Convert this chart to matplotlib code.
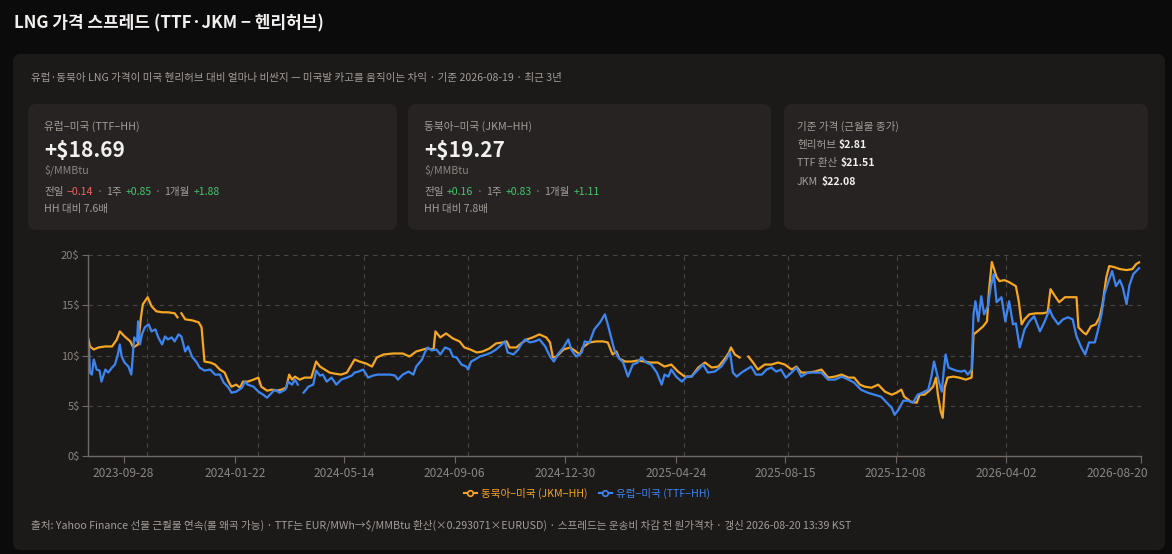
import numpy as np
import pandas as pd
import matplotlib
matplotlib.use('Agg')
import matplotlib.pyplot as plt
import matplotlib.transforms as mtransforms
from matplotlib.patches import FancyBboxPatch
from matplotlib.lines import Line2D

plt.rcParams['font.family'] = ['Noto Sans CJK KR', 'DejaVu Sans']

# window start; day offsets below count from here
start = pd.Timestamp('2023-08-22')

# 동북아-미국 (JKM-HH) spread, $/MMBtu
jkm_days = [0, 2, 6, 11, 18, 25, 30, 33, 38, 44, 47, 52, 55, 57, 62, 66, 71, 77, 83, 90,
            93, 95, 97, 101, 108, 115, 118, 121, 127, 132, 137, 142, 146, 149, 154, 158, 161, 166, 172, 177,
            180, 186, 191, 196, 201, 206, 209, 212, 215, 220, 225, 232, 237, 241, 246, 251, 256, 263, 269, 274,
            277, 282, 289, 295, 300, 307, 317, 327, 334, 341, 352, 359, 361, 366, 372, 379, 386, 391, 397, 404,
            410, 417, 424, 431, 435, 438, 445, 450, 456, 462, 469, 476, 480, 483, 487, 494, 501, 507, 511, 514,
            521, 528, 535, 540, 545, 549, 552, 558, 565, 571, 578, 585, 592, 599, 606, 613, 620, 627, 634, 641,
            648, 655, 661, 666, 668, 672, 677, 680, 686, 691, 696, 703, 710, 717, 724, 731, 736, 741, 748, 755,
            762, 769, 776, 783, 790, 796, 802, 807, 814, 821, 828, 835, 840, 845, 848, 855, 861, 864, 869, 874,
            878, 881, 883, 886, 888, 890, 893, 899, 905, 912, 918, 920, 924, 930, 934, 936, 939, 944, 947, 952,
            957, 964, 967, 970, 973, 978, 985, 992, 997, 1000, 1004, 1009, 1015, 1020, 1027, 1029, 1034, 1037, 1042, 1047,
            1051, 1054, 1058, 1061, 1066, 1072, 1079, 1085, 1089, 1092]
jkm_vals = [11.8, 10.9, 10.6, 10.8, 10.9, 10.9, 11.6, 12.4, 11.9, 11.4, 10.8, 11.1, 13.8, 15.1, 15.8, 14.9, 14.4, 14.3, 14.3, 14.2,
            13.8, np.nan, 14.2, 13.6, 13.5, 13.3, 12.8, 9.4, 9.3, 9.1, 8.6, 8.3, 7.4, 6.9, 7.1, 6.8, 7.4, 7.4, 7.6, 7.8,
            6.9, 6.5, 6.6, 6.5, 6.6, 6.8, 8.1, 7.6, 7.9, 7.6, 7.8, 7.8, 9.4, 8.9, 8.6, 8.3, 8.2, 8.1, 8.3, 9.1,
            9.6, 9.4, 9.2, 8.9, 9.8, 10.1, 10.2, 10.2, 9.9, 10.4, 10.7, 10.6, 12.4, 11.8, 12.2, 11.7, 11.4, 10.8, 10.6, 10.3,
            10.4, 10.7, 11.2, 11.3, 11.4, 10.8, 10.8, 11.2, 11.6, 11.8, 12.1, 11.8, 11.3, 9.8, 9.9, 10.6, 10.8, 10.4, 10.1, 10.8,
            11.3, 11.4, 11.4, 11.3, 10.1, 10.4, 9.7, 9.4, 9.4, 9.5, 9.4, 9.3, 9.3, 8.9, 9.1, 8.4, 7.9, 7.9, 8.8, 9.3,
            8.8, 8.9, 9.6, 10.3, 10.8, 10.1, 9.8, np.nan, 9.9, 9.3, 8.6, 9.1, 9.1, 9.3, 9.1, 8.6, 8.9, 8.3, 8.3, 8.4,
            8.6, 7.8, 7.9, 8.1, 7.8, 7.8, 7.1, 6.9, 6.8, 7.1, 6.4, 6.1, 6.3, 6.6, 5.9, 5.4, 5.3, 6.1, 6.1, 6.5,
            6.9, 7.8, 6.1, 4.4, 3.8, 6.8, 7.8, 7.9, 7.8, 7.6, 7.8, 12.1, 12.4, 12.9, 13.4, 16.4, 19.3, 17.8, 17.4, 17.5,
            17.3, 16.9, 15.4, 13.1, 13.6, 14.1, 14.2, 14.2, 14.3, 16.6, 16.0, 15.3, 15.8, 15.8, 15.8, 12.8, 12.3, 12.1, 12.9, 13.1,
            13.8, 15.1, 17.8, 18.9, 18.8, 18.6, 18.5, 18.6, 19.1, 19.27]

# 유럽-미국 (TTF-HH) spread, $/MMBtu
ttf_days = [0, 1, 2, 4, 6, 9, 12, 14, 18, 21, 25, 28, 31, 33, 35, 38, 42, 45, 48, 51,
            52, 54, 56, 59, 63, 66, 70, 73, 77, 80, 83, 87, 90, 94, 97, 101, 104, 108, 113, 116,
            121, 127, 132, 137, 141, 146, 149, 154, 160, 163, 166, 172, 177, 182, 186, 189, 194, 199, 205, 208,
            212, 215, 218, 221, 224, 229, 234, 237, 241, 244, 248, 253, 258, 263, 269, 274, 277, 281, 286, 291,
            296, 301, 307, 314, 319, 322, 327, 333, 338, 341, 347, 350, 353, 357, 362, 366, 371, 376, 379, 383,
            388, 393, 395, 398, 402, 407, 414, 419, 424, 430, 433, 436, 442, 447, 450, 454, 459, 464, 469, 475,
            480, 484, 488, 494, 499, 502, 507, 513, 516, 521, 526, 532, 537, 540, 544, 547, 551, 556, 561, 566,
            571, 575, 580, 585, 591, 596, 599, 603, 606, 611, 617, 622, 627, 634, 639, 644, 651, 658, 663, 667,
            670, 674, 679, 684, 689, 694, 700, 705, 710, 715, 720, 725, 731, 736, 741, 748, 755, 762, 769, 776,
            783, 790, 796, 803, 810, 817, 824, 829, 835, 838, 842, 847, 852, 857, 862, 867, 873, 876, 879, 881,
            884, 887, 889, 891, 894, 899, 902, 907, 911, 914, 918, 920, 922, 925, 928, 931, 935, 938, 941, 944,
            949, 953, 957, 961, 964, 968, 973, 978, 983, 989, 994, 999, 1002, 1008, 1013, 1018, 1023, 1027, 1032, 1036,
            1040, 1046, 1049, 1053, 1056, 1060, 1064, 1068, 1072, 1075, 1079, 1082, 1086, 1089, 1092]
ttf_vals = [11.1, 10.8, 8.3, 8.1, 9.6, 8.6, 8.5, 7.4, 8.6, 8.3, 8.8, 9.1, 10.1, 11.1, 9.9, 9.3, 8.9, 8.1, 11.8, 11.4,
            13.4, 11.1, 12.1, 12.8, 13.1, 12.4, 12.6, 11.8, 11.1, 11.9, 11.6, 11.8, 11.4, 12.1, 11.9, 10.4, 10.9, 9.9, 9.3, 8.8,
            8.5, 8.6, 8.1, 8.1, 7.3, 6.8, 6.3, 6.4, 6.8, 7.4, 7.1, 6.9, 6.4, 6.1, 5.8, 6.1, 6.6, 6.3, 6.6, 7.4,
            7.1, 7.6, 7.1, np.nan, 6.3, 6.9, 7.1, 8.5, 8.0, 8.1, 7.4, 7.8, 7.1, 7.6, 7.8, 8.0, 8.3, 8.4, 8.6, 7.8,
            8.0, 8.1, 8.1, 8.1, 8.0, 7.6, 8.1, 8.4, 8.1, 8.9, 9.6, 10.3, 10.8, 10.5, 10.6, 10.1, 10.8, 10.6, 9.9, 9.8,
            9.1, 8.9, 8.6, 9.4, 9.6, 9.9, 10.1, 10.3, 10.6, 11.1, 11.4, 10.3, 10.1, 10.6, 11.1, 11.6, 11.3, 11.4, 11.6, 10.9,
            9.9, 9.4, 10.1, 10.8, 11.6, 10.6, 9.9, 10.3, 11.4, 11.3, 12.6, 13.3, 14.1, 13.1, 11.6, 10.5, 9.8, 9.3, 7.9, 9.1,
            9.3, 9.8, 9.3, 9.1, 8.3, 7.1, 8.1, 7.9, 8.6, 7.9, 7.4, 7.9, 7.9, 8.6, 9.1, 8.3, 8.4, 8.9, 9.6, 10.3,
            8.3, 7.9, 8.3, 8.6, 8.9, 8.1, 8.1, 8.6, 8.8, 8.4, 8.6, 7.8, 8.3, 8.8, 7.9, 8.3, 8.3, 8.3, 7.6, 7.6,
            7.9, 7.6, 7.3, 6.6, 6.3, 6.1, 5.9, 5.4, 4.8, 4.1, 4.6, 5.5, 5.5, 5.3, 6.1, 6.3, 6.6, 7.8, 9.4, 8.6,
            7.4, 6.4, 8.4, 10.1, 8.8, 8.6, 8.5, 8.4, 8.5, 8.1, 8.6, 14.1, 15.4, 13.4, 15.9, 14.1, 14.9, 16.9, 18.1, 15.3,
            15.8, 13.4, 15.4, 13.1, 13.2, 10.8, 12.6, 13.4, 13.9, 12.4, 13.4, 14.6, 13.9, 13.1, 13.6, 13.8, 13.6, 11.9, 10.8, 10.1,
            11.3, 11.3, 12.4, 14.1, 16.1, 17.3, 18.4, 16.9, 17.5, 16.8, 15.1, 17.0, 18.1, 18.4, 18.69]

tick_dates = ['2023-09-28', '2024-01-22', '2024-05-14', '2024-09-06', '2024-12-30',
              '2025-04-24', '2025-08-15', '2025-12-08', '2026-04-02', '2026-08-20']
y_ticks = [0, 5, 10, 15, 20]

# KPI card numbers
ttf_now, jkm_now = 18.69, 19.27
ttf_chg = [-0.14, 0.85, 1.88]
jkm_chg = [0.16, 0.83, 1.11]
ttf_ratio, jkm_ratio = 7.6, 7.8
hh_px, ttf_px, jkm_px = 2.81, 21.51, 22.08

# colours
BG = '#0c0b0b'
PANEL = '#1c1a19'
CARD = '#262322'
ORANGE = '#f5a623'
BLUE = '#3d86f2'
GRAY = '#a39d98'
DIM = '#8a8580'
WHITE = '#f2f0ee'
RED = '#f06464'
GREEN = '#45c46e'
GRID = '#4a4542'

fig = plt.figure(figsize=(11.72, 5.54), dpi=100, facecolor=BG)
bg = fig.add_axes([0, 0, 1, 1])
bg.set_xlim(0, 1172)
bg.set_ylim(554, 0)
bg.axis('off')
bg.set_zorder(0)

renderer = fig.canvas.get_renderer()


def box(x, y, w, h, color, r=8):
    bg.add_patch(FancyBboxPatch((x, y), w, h, boxstyle=f'round,pad=0,rounding_size={r}',
                                fc=color, ec='none'))


def runs(x, y, parts, size=7.6, gap=3.5):
    # colored text pieces laid out left to right
    for s, c, w in parts:
        t = bg.text(x, y, s, color=c, fontsize=size, fontweight=w, va='center', ha='left')
        x += t.get_window_extent(renderer).width + gap


def fmt(v):
    return f'+{v:.2f}' if v >= 0 else f'\u2212{abs(v):.2f}'


def chg_color(v):
    return GREEN if v >= 0 else RED


bg.text(14, 23, 'LNG 가격 스프레드 (TTF·JKM \u2212 헨리허브)', color=WHITE, fontsize=12.2,
        fontweight='bold', va='center')
box(13, 54, 1152, 496, PANEL)
bg.text(31, 78, '유럽·동북아 LNG 가격이 미국 헨리허브 대비 얼마나 비싼지 — 미국발 카고를 움직이는 차익 · 기준 2026-08-19 · 최근 3년',
        color=GRAY, fontsize=7.6, va='center')

cards = [(28, 369, '유럽\u2212미국 (TTF\u2212HH)', ttf_now, ttf_chg, ttf_ratio),
         (408, 363, '동북아\u2212미국 (JKM\u2212HH)', jkm_now, jkm_chg, jkm_ratio)]
for cx, cw, label, now, chg, ratio in cards:
    box(cx, 104, cw, 126, CARD)
    tx = cx + 16
    bg.text(tx, 126, label, color=GRAY, fontsize=7.7, va='center')
    bg.text(tx, 150, f'+${now:.2f}', color=WHITE, fontsize=15, fontweight='bold', va='center')
    bg.text(tx, 170, '$/MMBtu', color=DIM, fontsize=7.6, va='center')
    runs(tx, 192, [('전일', GRAY, 'normal'), (fmt(chg[0]), chg_color(chg[0]), 'normal'),
                   ('·', DIM, 'normal'), ('1주', GRAY, 'normal'), (fmt(chg[1]), chg_color(chg[1]), 'normal'),
                   ('·', DIM, 'normal'), ('1개월', GRAY, 'normal'), (fmt(chg[2]), chg_color(chg[2]), 'normal')])
    bg.text(tx, 209, f'HH 대비 {ratio:.1f}배', color=GRAY, fontsize=7.6, va='center')

box(784, 104, 364, 126, CARD)
bg.text(797, 126, '기준 가격 (근월물 종가)', color=GRAY, fontsize=7.6, va='center')
for yy, name, px in [(145, '헨리허브', hh_px), (163, 'TTF 환산', ttf_px), (182, 'JKM', jkm_px)]:
    runs(797, yy, [(name, GRAY, 'normal'), (f'${px:.2f}', WHITE, 'bold')], gap=3)

# chart
L, R, T, B = 88, 1141, 255, 456
ax = fig.add_axes([L / 1172, 1 - B / 554, (R - L) / 1172, (B - T) / 554])
ax.set_zorder(2)
ax.set_facecolor('none')

jkm_dates = start + pd.to_timedelta(jkm_days, unit='D')
ttf_dates = start + pd.to_timedelta(ttf_days, unit='D')
ax.plot(jkm_dates, jkm_vals, color=ORANGE, lw=1.6, solid_joinstyle='round')
ax.plot(ttf_dates, ttf_vals, color=BLUE, lw=1.6, solid_joinstyle='round')

ax.set_xlim(start, start + pd.Timedelta(days=1094))
ax.set_ylim(0, 20)
ax.set_yticks(y_ticks)
ax.set_yticklabels([f'{v}$' for v in y_ticks])
ax.set_xticks(pd.to_datetime(tick_dates))
ax.set_xticklabels(tick_dates)

dash = (0, (4, 4))
for v in y_ticks[1:]:
    ax.axhline(v, color=GRID, lw=0.8, ls=dash, zorder=0)
grid_dates = ['2023-10-22', '2024-02-15', '2024-06-04', '2024-09-20', '2025-01-11',
              '2025-05-02', '2025-08-18', '2025-12-09', '2026-04-02', '2026-08-20']
for d in pd.to_datetime(grid_dates):
    ax.axvline(d, color=GRID, lw=0.8, ls=dash, zorder=0)

for s in ['top', 'right']:
    ax.spines[s].set_visible(False)
for s in ['left', 'bottom']:
    ax.spines[s].set_color('#6e6964')
    ax.spines[s].set_linewidth(1.0)
ax.tick_params(axis='both', colors='#6e6964', labelcolor=DIM)
ax.tick_params(axis='y', length=4, pad=2, labelsize=8)
ax.tick_params(axis='x', length=5, pad=3, labelsize=8.6)

# last date label sits inside the plot edge
last = ax.get_xticklabels()[-1]
last.set_horizontalalignment('right')
last.set_transform(last.get_transform() + mtransforms.ScaledTranslation(7 / 100, 0, fig.dpi_scale_trans))

handles = [Line2D([], [], color=ORANGE, lw=1.5, marker='o', ms=4, mfc=PANEL, mec=ORANGE, mew=1.2),
           Line2D([], [], color=BLUE, lw=1.5, marker='o', ms=4, mfc=PANEL, mec=BLUE, mew=1.2)]
fig.legend(handles, ['동북아\u2212미국 (JKM\u2212HH)', '유럽\u2212미국 (TTF\u2212HH)'], loc='center',
           bbox_to_anchor=(587 / 1172, 1 - 493 / 554), ncol=2, frameon=False, fontsize=7.6,
           handlelength=1.3, handletextpad=0.4, columnspacing=1.0, labelcolor='linecolor')

bg.text(31, 525, '출처: Yahoo Finance 선물 근월물 연속(롤 왜곡 가능) · TTF는 EUR/MWh→$/MMBtu 환산(×0.293071×EURUSD) · '
                 '스프레드는 운송비 차감 전 원가격차 · 갱신 2026-08-20 13:39 KST',
        color=GRAY, fontsize=7.65, va='center')

fig.savefig('out.png', dpi=100, facecolor=BG)
